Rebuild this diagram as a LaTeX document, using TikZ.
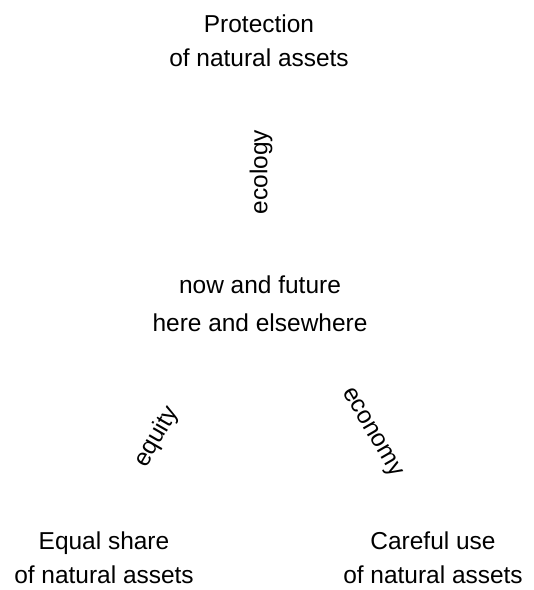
\documentclass[tikz,border=0pt]{standalone}
\usepackage{fontspec}
\setmainfont{Liberation Sans}
\tikzset{
  figtext/.style={draw=none, fill=none, black, align=center, inner sep=0pt, font=\fontsize{17.4}{24.2}\selectfont},
  figmid/.style={figtext, font=\fontsize{17.4}{27.2}\selectfont},
  figaxis/.style={figtext},
}
\begin{document}
\begin{tikzpicture}
\useasboundingbox (0,0) rectangle (13.325,14.75);
\node[figtext] (protect) at (6.475,13.725) {Protection\\of natural assets};
\node[figmid] (now) at (6.5,7.15) {now and future\\here and elsewhere};
\node[figtext] (share) at (2.6,0.8) {Equal share\\of natural assets};
\node[figtext] (careful) at (10.825,0.8) {Careful use\\of natural assets};
\node[figaxis, rotate=90] (ecology) at (6.525,10.45) {ecology};
\node[figaxis, rotate=60] (equity) at (3.925,3.825) {equity};
\node[figaxis, rotate=-60] (economy) at (9.275,3.925) {economy};
\end{tikzpicture}
\end{document}
